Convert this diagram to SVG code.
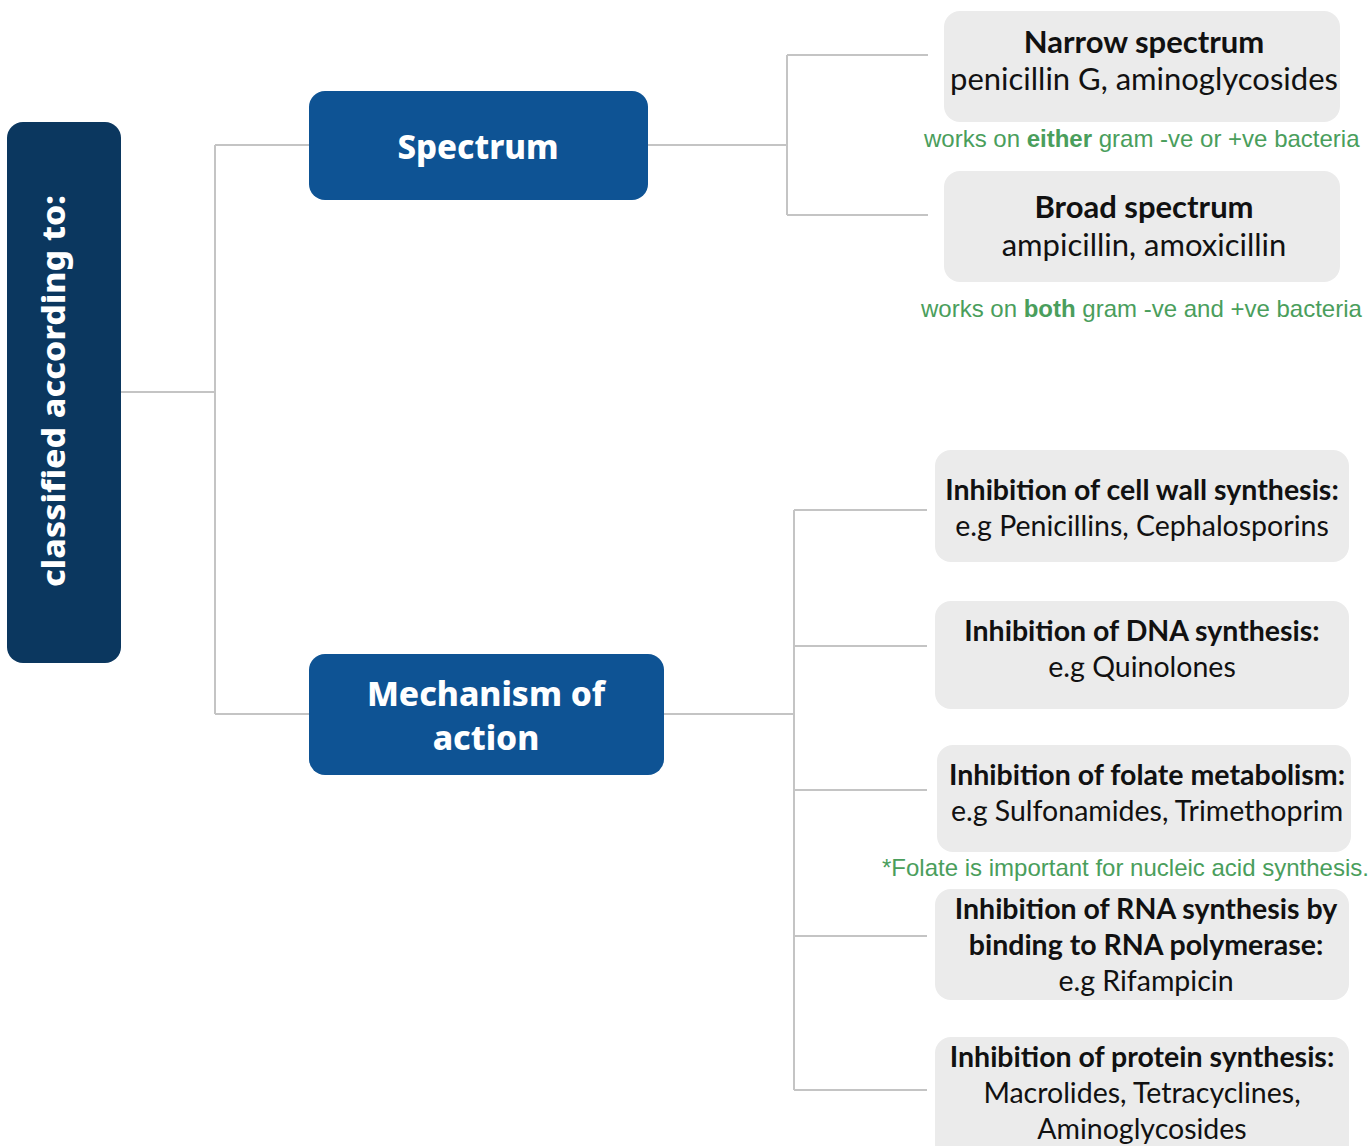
<svg xmlns="http://www.w3.org/2000/svg" width="1370" height="1146" viewBox="0 0 1370 1146">
<style>
.conn{stroke:#c4c4c4;stroke-width:2;fill:none}
.dark{fill:#0b375f}
.blue{fill:#0e5394}
.gray{fill:#ebebeb}
.ht{font-family:"Noto Sans","Open Sans",sans-serif;font-weight:800;fill:#ffffff;text-anchor:middle}
.bt{font-family:Lato,"Liberation Sans",sans-serif;font-weight:bold;fill:#111;text-anchor:middle}
.nt{font-family:Lato,"Liberation Sans",sans-serif;fill:#111;text-anchor:middle}
.gt{font-family:"Liberation Sans",Arial,sans-serif;font-size:24px;fill:#4a9e5c}
</style>
<rect width="1370" height="1146" fill="#ffffff"/>
<g id="connectors">
<path class="conn" d="M121 392H215M215 145V714M215 145H309M215 714H309"/>
<path class="conn" d="M648 145H787M787 55V215M787 55H928M787 215H928"/>
<path class="conn" d="M664 714H794M794 510V1090M794 510H927M794 646H927M794 790H927M794 936H927M794 1090H927"/>
</g>
<g id="root">
<rect class="dark" x="7" y="122" width="114" height="541" rx="16"/>
<text class="ht" font-size="32" transform="translate(65 391) rotate(-90)" textLength="392" lengthAdjust="spacingAndGlyphs">classified according to:</text>
</g>
<g id="spectrum">
<rect class="blue" x="309" y="91" width="339" height="109" rx="16"/>
<text class="ht" font-size="33" x="478" y="159">Spectrum</text>
</g>
<g id="mechanism">
<rect class="blue" x="309" y="654" width="355" height="121" rx="16"/>
<text class="ht" font-size="33.5" x="486" y="706">Mechanism of</text>
<text class="ht" font-size="33.5" x="486" y="750">action</text>
</g>
<g id="narrow">
<rect class="gray" x="944" y="11" width="396" height="111" rx="16"/>
<text class="bt" font-size="31" x="1144" y="53">Narrow spectrum</text>
<text class="nt" font-size="31" x="1144" y="90">penicillin G, aminoglycosides</text>
</g>
<g id="narrow-note">
<text class="gt" x="924" y="147">works on <tspan font-weight="bold">either</tspan> gram -ve or +ve bacteria</text>
</g>
<g id="broad">
<rect class="gray" x="944" y="171" width="396" height="111" rx="16"/>
<text class="bt" font-size="31" x="1144" y="218">Broad spectrum</text>
<text class="nt" font-size="31" x="1144" y="256">ampicillin, amoxicillin</text>
</g>
<g id="broad-note">
<text class="gt" x="921" y="317">works on <tspan font-weight="bold">both</tspan> gram -ve and +ve bacteria</text>
</g>
<g id="cellwall">
<rect class="gray" x="935" y="450" width="414" height="112" rx="16"/>
<text class="bt" font-size="28.5" x="1142" y="500">Inhibition of cell wall synthesis:</text>
<text class="nt" font-size="28.5" x="1142" y="536">e.g Penicillins, Cephalosporins</text>
</g>
<g id="dna">
<rect class="gray" x="935" y="601" width="414" height="108" rx="16"/>
<text class="bt" font-size="28.5" x="1142" y="641">Inhibition of DNA synthesis:</text>
<text class="nt" font-size="28.5" x="1142" y="677">e.g Quinolones</text>
</g>
<g id="folate">
<rect class="gray" x="937" y="745" width="414" height="107" rx="16"/>
<text class="bt" font-size="28.5" x="1147" y="785">Inhibition of folate metabolism:</text>
<text class="nt" font-size="28.5" x="1147" y="821">e.g Sulfonamides, Trimethoprim</text>
</g>
<g id="folate-note">
<text class="gt" x="882" y="876">*Folate is important for nucleic acid synthesis.</text>
</g>
<g id="rna">
<rect class="gray" x="935" y="889" width="414" height="111" rx="16"/>
<text class="bt" font-size="28.5" x="1146" y="919">Inhibition of RNA synthesis by</text>
<text class="bt" font-size="28.5" x="1146" y="955">binding to RNA polymerase:</text>
<text class="nt" font-size="28.5" x="1146" y="991">e.g Rifampicin</text>
</g>
<g id="protein">
<rect class="gray" x="935" y="1037" width="414" height="125" rx="16"/>
<text class="bt" font-size="28.5" x="1142" y="1067">Inhibition of protein synthesis:</text>
<text class="nt" font-size="28.5" x="1142" y="1103">Macrolides, Tetracyclines,</text>
<text class="nt" font-size="28.5" x="1142" y="1139">Aminoglycosides</text>
</g>
</svg>
